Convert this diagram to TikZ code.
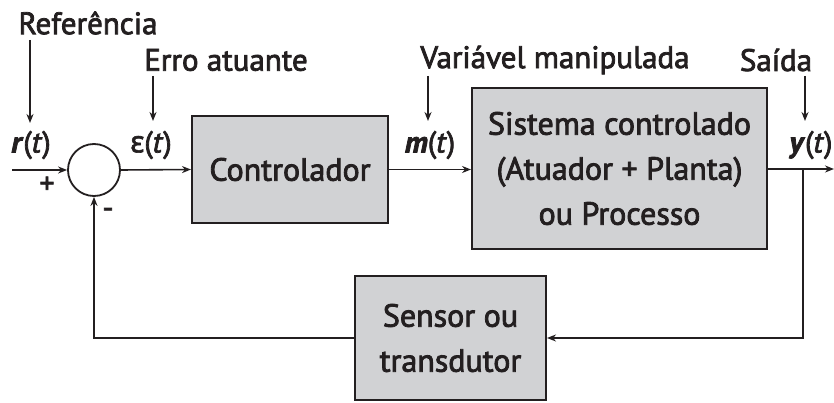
\documentclass[tikz,border=0pt]{standalone}
\usepackage{fontspec}
\setmainfont{PT Sans}
\newfontfamily\heavy{PT Sans}[FakeBold=2.5]
\newfontfamily\greek{Noto Sans}[FakeBold=2]
\usetikzlibrary{arrows.meta}
\definecolor{ink}{HTML}{231F20}
\definecolor{boxgray}{HTML}{D1D2D4}
\tikzset{
  blockbox/.style={draw=ink, line width=2pt, fill=boxgray, text=ink,
    align=center, inner sep=0pt, font=\heavy\fontsize{32}{45}\selectfont},
  lbl/.style={text=ink, inner sep=0pt, font=\heavy\fontsize{31}{34}\selectfont},
  sig/.style={text=ink, inner sep=0pt, font=\heavy\fontsize{30}{34}\selectfont},
  wire/.style={draw=ink, line width=1.6pt},
  arr/.style={wire, -{Stealth[length=9pt,width=7pt]}},
}
\begin{document}
\begin{tikzpicture}[x=1pt,y=-1pt]
\useasboundingbox (0,0) rectangle (834,403);

% blocks
\node[blockbox, minimum width=196pt, minimum height=107pt] (ctrl) at (290,169.5) {Controlador};
\node[blockbox, minimum width=295pt, minimum height=161pt] (plant) at (619.5,168.5)
  {Sistema controlado\\(Atuador + Planta)\\ou Processo};
\node[blockbox, minimum width=191pt, minimum height=124pt] (sens) at (450.5,338) {Sensor ou\\transdutor};
\node[draw=ink, line width=1.8pt, circle, minimum size=52pt, inner sep=0pt] (sum) at (94,170) {};

% signal names
\node[sig] (r) at (31,145) {\textbf{\textit{r}}(\textit{t})};
\node[sig] (e) at (151,145) {{\greek ε}(\textit{t})};
\node[sig] (m) at (430,145) {\textbf{\textit{m}}(\textit{t})};
\node[sig] (y) at (811,145) {\textbf{\textit{y}}(\textit{t})};
\node[sig] (plus) at (47,185) {+};
\node[sig] (minus) at (108,213) {-};

% captions
\node[lbl] (cref) at (88,23) {Referência};
\node[lbl] (cerr) at (226,60) {Erro atuante};
\node[lbl] (cman) at (555,60) {Variável manipulada};
\node[lbl] (cout) at (776,60) {Saída};

% caption pointers
\coordinate (refTop) at (30,40);
\coordinate (refBot) at (30,123);
\coordinate (errTop) at (153,76);
\coordinate (errBot) at (153,121);
\coordinate (manTop) at (428,76);
\coordinate (manBot) at (428,121);
\coordinate (outTop) at (805,76);
\coordinate (outBot) at (805,121);
\draw[arr] (refTop) -- (refBot);
\draw[arr] (errTop) -- (errBot);
\draw[arr] (manTop) -- (manBot);
\draw[arr] (outTop) -- (outBot);

% forward path
\coordinate (in) at (12,170);
\coordinate (branch) at (803,169);
\coordinate (out) at (834,169);
\coordinate (fbR) at (803,338);
\coordinate (fbL) at (94,338);
\draw[arr] (in) -- (sum.west);
\draw[arr] (sum.east) -- (ctrl.west);
\draw[arr] (ctrl.east) -- (ctrl.east -| plant.west);
\draw[arr] (plant.east |- branch) -- (out);

% feedback path
\draw[arr] (branch) -- (fbR) -- (sens.east);
\draw[arr] (sens.west) -- (fbL) -- (sum.south);
\end{tikzpicture}
\end{document}
